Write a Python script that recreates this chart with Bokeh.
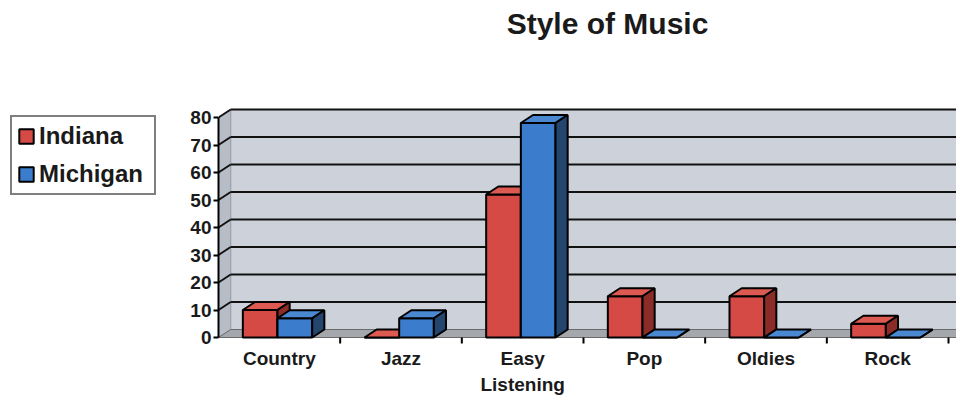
from bokeh.plotting import figure
from bokeh.layouts import row
from bokeh.models import FixedTicker, Legend, LegendItem, Range1d, Label
from bokeh.core.properties import value
from bokeh.embed import file_html
from bokeh.resources import INLINE

# ---- data ----
categories = ["Country", "Jazz", "Easy\nListening", "Pop", "Oldies", "Rock"]
indiana = [10, 0, 52, 15, 15, 5]
michigan = [7, 7, 78, 0, 0, 0]
y_ticks = [0, 10, 20, 30, 40, 50, 60, 70, 80]
series_names = ["Indiana", "Michigan"]
title_text = "Style of Music"

# ---- style / geometry ----
FONT = "Liberation Sans"
n = len(categories)
YMAX_FRONT = 80
DX = 0.10      # depth offset in x (category units)
DY = 2.9       # depth offset in y (value units)
BAR_W = 0.285
WALL = "#cdd2da"
SIDE_WALL = "#b7bdc7"
FLOOR = "#a4a8ad"
colors = {
    "Indiana": ("#d64a45", "#dc5a52", "#8c2c28"),
    "Michigan": ("#3b7dcc", "#4a88d2", "#24466e"),
}
TOTAL_W, TOTAL_H = 956, 398
LEFT_W = 173
AXIS_W = 45
PX_PER_UNIT = 2.75           # vertical pixels per value unit
CAT_PX = 730 / n             # horizontal pixels per category
FLOOR_Y_PX = 337             # pixel row of the value 0 (front edge)
frame_w = TOTAL_W - LEFT_W - AXIS_W
X_END = frame_w / CAT_PX
Y_START = -(TOTAL_H - FLOOR_Y_PX) / PX_PER_UNIT
Y_END = FLOOR_Y_PX / PX_PER_UNIT

# ---------------- legend figure (left) ----------------
pl = figure(width=LEFT_W, height=TOTAL_H, output_backend="svg", toolbar_location=None,
            x_range=Range1d(0, n), y_range=Range1d(0, 100),
            x_axis_location=None, y_axis_location=None,
            min_border_left=0, min_border_right=0, min_border_top=0,
            min_border_bottom=0)
pl.grid.visible = False
pl.outline_line_color = None
pl.background_fill_color = "white"
pl.border_fill_color = "white"
leg_items = []
for name, vals in zip(series_names, [indiana, michigan]):
    r = pl.quad(left=list(range(n)), right=[i + 0.5 for i in range(n)],
                bottom=[0] * n, top=vals, fill_color=colors[name][0],
                line_color="black", line_width=2, visible=False)
    leg_items.append(LegendItem(label=name, renderers=[r]))
legend = Legend(items=leg_items, location=(10, TOTAL_H - 195))
legend.label_text_font = FONT
legend.label_text_font_size = "24px"
legend.label_text_font_style = "bold"
legend.label_text_color = "#1a1a1a"
legend.glyph_width = 18
legend.glyph_height = 18
legend.label_height = 28
legend.label_width = 110
legend.label_standoff = 4
legend.padding = 5
legend.spacing = 10
legend.margin = 0
legend.border_line_color = "black"
legend.border_line_width = 2
legend.background_fill_color = "white"
legend.background_fill_alpha = 1
legend.inactive_fill_alpha = 0
legend.click_policy = "none"
pl.add_layout(legend, "center")

# ---------------- chart figure (right) ----------------
p = figure(width=TOTAL_W - LEFT_W, height=TOTAL_H, output_backend="svg",
           toolbar_location=None, x_axis_location=None,
           x_range=Range1d(0, X_END), y_range=Range1d(Y_START, Y_END),
           min_border_left=AXIS_W, min_border_right=0, min_border_bottom=0,
           min_border_top=0)
p.outline_line_color = None
p.background_fill_color = "white"
p.border_fill_color = "white"
p.xgrid.visible = False
p.ygrid.visible = False

# title
p.add_layout(Label(x=(607 - 218) / CAT_PX, y=(FLOOR_Y_PX - 23) / PX_PER_UNIT,
                   text=title_text, text_font=FONT, text_font_size="30px",
                   text_font_style="bold", text_color="#1a1a1a",
                   text_align="center", text_baseline="middle"))

# back wall
p.patch([DX, X_END + DX, X_END + DX, DX],
        [DY, DY, YMAX_FRONT + DY, YMAX_FRONT + DY],
        fill_color=WALL, line_color="#9aa0aa", line_width=1)
# left side wall
p.patch([0, DX, DX, 0], [0, DY, YMAX_FRONT + DY, YMAX_FRONT],
        fill_color=SIDE_WALL, line_color="#9aa0aa", line_width=1)
# floor
p.patch([0, X_END, X_END + DX, DX], [0, 0, DY, DY],
        fill_color=FLOOR, line_color="#6a6a6a", line_width=1)

# gridlines on back wall and side wall
gt = [t for t in y_ticks if t > 0]
p.segment(x0=[DX] * len(gt), y0=[t + DY for t in gt], x1=[X_END + DX] * len(gt),
          y1=[t + DY for t in gt], line_color="#111111", line_width=2)
p.segment(x0=[0] * len(gt), y0=gt, x1=[DX] * len(gt), y1=[t + DY for t in gt],
          line_color="#111111", line_width=2)

# 3D bars
for s_idx, (name, vals) in enumerate(zip(series_names, [indiana, michigan])):
    front_c, top_c, side_c = colors[name]
    lefts = [i + 0.5 - 0.30 + s_idx * BAR_W for i in range(n)]
    rights = [l + BAR_W for l in lefts]
    p.quad(left=lefts, right=rights, bottom=[0] * n, top=vals,
           fill_color=front_c, line_color="black", line_width=2)
    tops_x = [[l, r, r + DX, l + DX] for l, r in zip(lefts, rights)]
    tops_y = [[v, v, v + DY, v + DY] for v in vals]
    p.patches(tops_x, tops_y, fill_color=top_c, line_color="black", line_width=2)
    side_x = [[r, r + DX, r + DX, r] for r in rights]
    side_y = [[0, DY, v + DY, v] for v in vals]
    p.patches(side_x, side_y, fill_color=side_c, line_color="black", line_width=2)

# category axis: separators and labels below the floor
centers = [i + 0.5 for i in range(n)]
sep = [i + 1 for i in range(n)]
p.segment(x0=sep, y0=[0] * n, x1=sep, y1=[-6 / PX_PER_UNIT] * n,
          line_color="black", line_width=2)
p.text(x=centers, y=[-10 / PX_PER_UNIT] * n, text=categories,
       text_font=value(FONT), text_font_size="19px", text_font_style="bold",
       text_color="#1a1a1a", text_align="center", text_baseline="top",
       text_line_height=1.26)

# y axis
ya = p.yaxis[0]
ya.ticker = FixedTicker(ticks=y_ticks)
ya.bounds = (0, YMAX_FRONT)
ya.axis_line_color = "black"
ya.axis_line_width = 2
ya.major_tick_line_color = "black"
ya.major_tick_line_width = 2
ya.major_tick_out = 5
ya.major_tick_in = 0
ya.minor_tick_line_color = None
ya.major_label_text_font = FONT
ya.major_label_text_font_size = "19px"
ya.major_label_text_font_style = "bold"
ya.major_label_text_color = "#1a1a1a"
ya.major_label_standoff = 2

layout = row(pl, p, spacing=0)
open("out.html", "w").write(file_html(layout, INLINE))
